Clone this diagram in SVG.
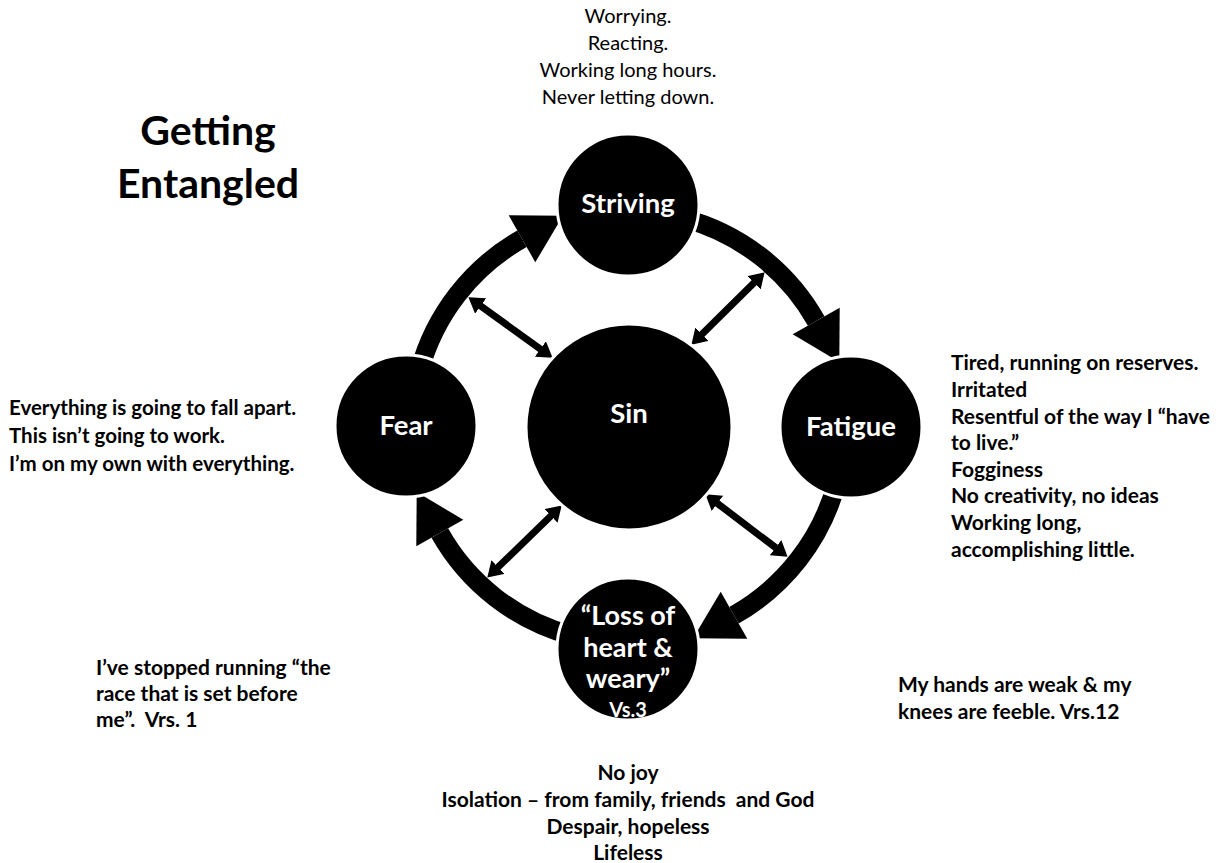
<svg xmlns="http://www.w3.org/2000/svg" width="1222" height="863" viewBox="0 0 1222 863">
  <style>
    .t { font-family: Lato, "Open Sans", "Liberation Sans", sans-serif; fill: #000; }
    .b { font-weight: bold; }
    .r { font-weight: normal; }
    .c { text-anchor: middle; }
    .node { fill: #000; stroke: #fff; stroke-width: 3; }
    .lbl { font-family: Lato, "Open Sans", "Liberation Sans", sans-serif; font-weight: bold; fill: #fff; text-anchor: middle; }
    .ring { fill: none; stroke: #000; stroke-width: 19; stroke-linecap: butt; }
    .head { fill: #000; stroke: none; }
    .dbl { stroke: #000; stroke-width: 7; fill: none; marker-start: url(#ah); marker-end: url(#ah); }
  </style>
  <defs>
    <marker id="ah" viewBox="0 0 15 19" refX="0.5" refY="9.5" markerWidth="15" markerHeight="19" markerUnits="userSpaceOnUse" orient="auto-start-reverse">
      <path d="M0,0 L15,9.5 L0,19 z" fill="#000"/>
    </marker>
  </defs>
  <rect width="1222" height="863" fill="#fff"/>

  <g id="connectors">
    <!-- Fear -> Striving -->
    <path class="ring" d="M419.4,371.1 A216,216 0 0 1 522.0,238.8"/>
    <polygon class="head" points="508.7,215.3 562.9,215.7 535.3,262.3"/>
    <!-- Striving -> Fatigue -->
    <path class="ring" d="M683.9,218.4 A216,216 0 0 1 816.2,321.0"/>
    <polygon class="head" points="839.7,307.7 839.3,361.9 792.7,334.3"/>
    <!-- Fatigue -> Loss -->
    <path class="ring" d="M836.6,482.9 A216,216 0 0 1 734.0,615.2"/>
    <polygon class="head" points="747.3,638.7 693.1,638.3 720.7,591.7"/>
    <!-- Loss -> Fear -->
    <path class="ring" d="M572.1,635.6 A216,216 0 0 1 439.8,533.0"/>
    <polygon class="head" points="416.3,546.3 416.7,492.1 463.3,519.7"/>
    <!-- Sin double arrows -->
    <line class="dbl" x1="480.2" y1="305.7" x2="540.8" y2="349.3"/>
    <line class="dbl" x1="754.3" y1="282.5" x2="701.7" y2="334.5"/>
    <line class="dbl" x1="551.3" y1="515.5" x2="497.7" y2="567.5"/>
    <line class="dbl" x1="717" y1="503.1" x2="776" y2="547.9"/>
  </g>

  <g id="node-striving">
    <circle class="node" cx="628" cy="205" r="71"/>
    <text class="lbl" x="628" y="213" font-size="27.5">Striving</text>
  </g>
  <g id="node-fear">
    <circle class="node" cx="406" cy="426" r="71"/>
    <text class="lbl" x="406" y="435" font-size="27.5">Fear</text>
  </g>
  <g id="node-sin">
    <circle class="node" cx="629" cy="427" r="103"/>
    <text class="lbl" x="629" y="423" font-size="27.5">Sin</text>
  </g>
  <g id="node-fatigue">
    <circle class="node" cx="851" cy="427" r="71"/>
    <text class="lbl" x="851" y="436" font-size="27.5">Fatigue</text>
  </g>
  <g id="node-loss">
    <circle class="node" cx="628" cy="649" r="71"/>
    <text class="lbl" x="628" y="625" font-size="27">“Loss of</text>
    <text class="lbl" x="628" y="657" font-size="27">heart &amp;</text>
    <text class="lbl" x="628" y="688" font-size="27">weary”</text>
    <text class="lbl" x="628" y="717" font-size="20">Vs.3</text>
  </g>

  <g id="title">
    <text class="t b c" x="208" y="145" font-size="41">Getting</text>
    <text class="t b c" x="208" y="198" font-size="41">Entangled</text>
  </g>

  <g id="striving-notes">
    <text class="t r c" x="628" y="23" font-size="20">Worrying.</text>
    <text class="t r c" x="628" y="50" font-size="20">Reacting.</text>
    <text class="t r c" x="628" y="77" font-size="20">Working long hours.</text>
    <text class="t r c" x="628" y="104" font-size="20">Never letting down.</text>
  </g>

  <g id="fear-notes">
    <text class="t b" x="9" y="415" font-size="20.5">Everything is going to fall apart.</text>
    <text class="t b" x="9" y="443" font-size="20.5">This isn’t going to work.</text>
    <text class="t b" x="9" y="471" font-size="20.5">I’m on my own with everything.</text>
  </g>

  <g id="fatigue-notes">
    <text class="t b" x="951" y="370" font-size="21">Tired, running on reserves.</text>
    <text class="t b" x="951" y="397" font-size="21">Irritated</text>
    <text class="t b" x="951" y="424" font-size="21">Resentful of the way I “have</text>
    <text class="t b" x="951" y="450" font-size="21">to live.”</text>
    <text class="t b" x="951" y="477" font-size="21">Fogginess</text>
    <text class="t b" x="951" y="503" font-size="21">No creativity, no ideas</text>
    <text class="t b" x="951" y="530" font-size="21">Working long,</text>
    <text class="t b" x="951" y="557" font-size="21">accomplishing little.</text>
  </g>

  <g id="left-bottom-notes">
    <text class="t b" x="96" y="675" font-size="21">I’ve stopped running “the</text>
    <text class="t b" x="96" y="701" font-size="21">race that is set before</text>
    <text class="t b" x="96" y="727" font-size="21" xml:space="preserve">me”.  Vrs. 1</text>
  </g>

  <g id="right-bottom-notes">
    <text class="t b" x="898" y="692" font-size="21">My hands are weak &amp; my</text>
    <text class="t b" x="898" y="719" font-size="21">knees are feeble. Vrs.12</text>
  </g>

  <g id="loss-notes">
    <text class="t b c" x="628" y="780" font-size="21">No joy</text>
    <text class="t b c" x="628" y="807" font-size="21" xml:space="preserve">Isolation – from family, friends  and God</text>
    <text class="t b c" x="628" y="834" font-size="21">Despair, hopeless</text>
    <text class="t b c" x="628" y="860" font-size="21">Lifeless</text>
  </g>
</svg>
